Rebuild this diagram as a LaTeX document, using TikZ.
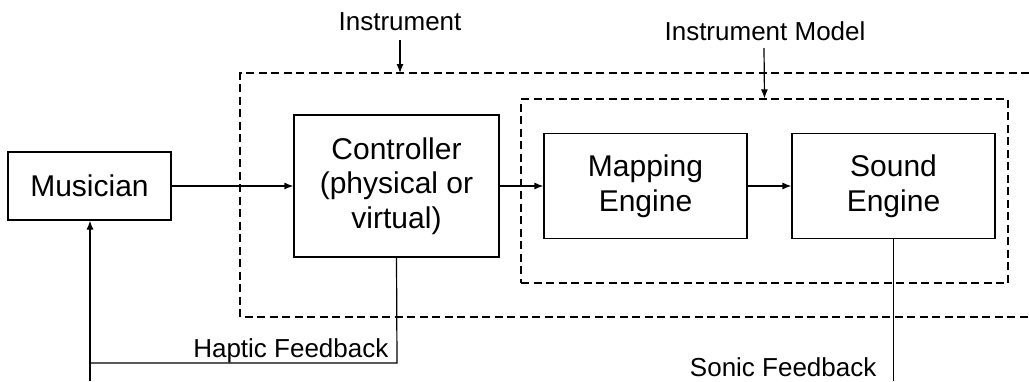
\documentclass[tikz,border=0pt]{standalone}
\usepackage{fontspec}
\setmainfont{Liberation Sans}
\usetikzlibrary{arrows.meta}
\begin{document}
\begin{tikzpicture}[x=1pt,y=-1pt,line width=1.2pt,
  blockbox/.style={draw,align=center,inner sep=0pt,font=\fontsize{30}{34.5}\selectfont},
  lbl/.style={inner sep=0pt,font=\fontsize{26}{30}\selectfont},
  dashbox/.style={draw,dash pattern=on 8pt off 4.5pt},
  arr/.style={-{Latex[length=9pt,width=7pt]}}]
\useasboundingbox (0,0) rectangle (1029,381);
% outer instrument box (open to the right)
\coordinate (o1) at (1029,73);
\coordinate (o2) at (240,73);
\coordinate (o3) at (240,317);
\coordinate (o4) at (1029,317);
\draw[dashbox] (o1) -- (o2) -- (o3) -- (o4);
% inner instrument model box
\node[dashbox,minimum width=487pt,minimum height=184pt,inner sep=0pt] (model) at (764.5,191) {};
% blocks
\node[blockbox,minimum width=163pt,minimum height=68pt] (mus) at (89.5,186) {Musician};
\node[blockbox,minimum width=205pt,minimum height=142pt] (ctl) at (396.5,186) {Controller\\(physical or\\virtual)};
\node[blockbox,minimum width=203pt,minimum height=105pt] (map) at (645.5,186) {Mapping\\Engine};
\node[blockbox,minimum width=203pt,minimum height=105pt] (snd) at (893.5,186) {Sound\\Engine};
% labels
\node[lbl] (instr) at (400,22) {Instrument};
\node[lbl] (imodel) at (765,31) {Instrument Model};
\coordinate (instrTop) at (400,40);
\coordinate (instrBox) at (400,73);
\coordinate (modelTop) at (764,48);
\draw[arr] (instrTop) -- (instrBox);
\draw[arr] (modelTop) -- (model.north);
% forward arrows
\draw[arr] (mus) -- (ctl);
\draw[arr] (ctl) -- (map);
\draw[arr] (map) -- (snd);
% haptic feedback
\coordinate (h1) at (397,363);
\coordinate (h2) at (90,363);
\coordinate (hb) at (90,381);
\draw (ctl.south) -- (h1) -- (h2);
\draw[arr] (hb) -- (mus.south -| hb);
\node[lbl,anchor=base east] (hap) at (389,357) {Haptic Feedback};
% sonic feedback
\coordinate (sb) at (snd.south |- hb);
\draw (snd.south) -- (sb);
\node[lbl,anchor=base east] (son) at (877,376) {Sonic Feedback};
\end{tikzpicture}
\end{document}
